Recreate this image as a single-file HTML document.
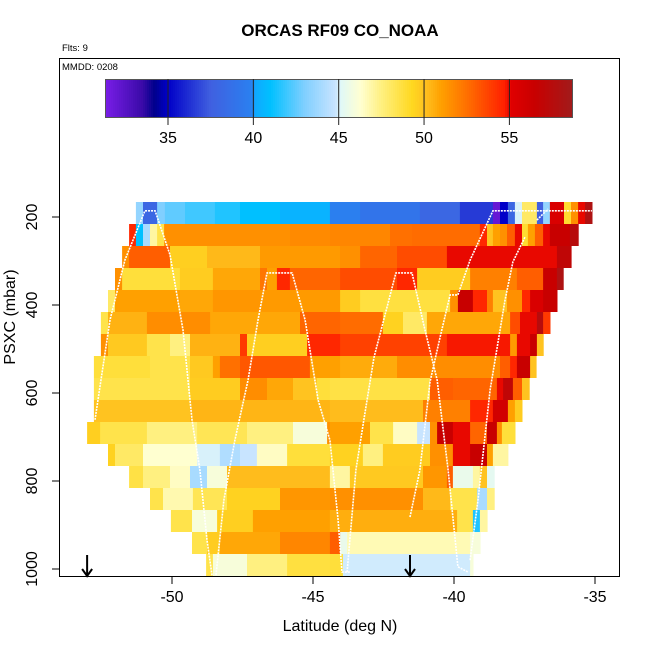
<!DOCTYPE html>
<html><head><meta charset="utf-8"><style>
html,body{margin:0;padding:0;background:#fff;}
svg{display:block;font-family:"Liberation Sans",Arial,sans-serif;}
</style></head><body>
<svg id="chart" width="650" height="650" viewBox="0 0 650 650"></svg>
<script>
// ---- data ----
const pressureLevels=[190,240,290,340,390,440,490,540,590,640,690,740,790,840,890,940,990];
const rowEnds=[-35.11,-35.60,-35.85,-36.13,-36.35,-36.60,-36.84,-37.09,-37.34,-37.59,-37.84,-38.09,-38.58,-38.58,-38.83,-39.08,-39.33];
const segStarts=[
[-51.28,-51.03,-50.53,-50.25,-49.54,-48.48,-47.59,-46.17,-44.40,-43.33,-41.21,-39.79,-38.62,-38.37,-38.09,-37.84,-37.59,-37.06,-36.84,-36.60,-36.10,-35.85,-35.60,-35.35],
[-51.52,-51.28,-51.03,-50.78,-50.53,-50.28,-45.82,-44.40,-42.27,-41.49,-39.08,-38.83,-38.62,-38.37,-38.12,-37.84,-37.59,-37.38,-37.13,-36.84,-36.60,-35.89],
[-51.77,-51.52,-50.07,-48.76,-46.88,-44.04,-43.33,-42.02,-40.25,-36.35],
[-52.02,-51.77,-49.72,-48.55,-46.88,-46.63,-46.28,-45.82,-44.04,-42.02,-41.31,-39.43,-37.77,-36.84,-36.35],
[-52.27,-52.02,-49.72,-48.55,-46.88,-44.04,-43.33,-40.14,-39.86,-39.33,-38.83,-38.62,-38.12,-37.59,-37.30,-36.84],
[-52.52,-52.27,-50.89,-48.65,-45.46,-44.04,-42.52,-41.81,-40.96,-38.01,-37.66,-37.06,-36.84],
[-52.52,-52.27,-50.89,-50.07,-49.36,-47.59,-47.34,-45.21,-44.04,-40.25,-38.01,-37.66,-37.77,-37.30,-37.06],
[-52.77,-50.78,-49.36,-48.55,-48.30,-47.59,-45.11,-44.04,-42.02,-38.37,-38.01,-37.77,-37.30],
[-52.77,-49.36,-47.59,-46.63,-45.71,-44.86,-44.40,-40.85,-40.04,-38.48,-38.26,-37.91,-37.59],
[-52.77,-49.36,-44.40,-41.10,-39.43,-38.62,-38.09,-37.84],
[-53.01,-52.55,-50.89,-49.11,-47.34,-45.71,-44.50,-44.40,-42.98,-42.16,-41.31,-40.85,-40.60,-40.04,-39.43,-38.83,-38.48,-38.30],
[-52.27,-52.02,-51.03,-49.11,-48.30,-47.59,-46.99,-45.92,-44.40,-43.23,-42.52,-40.85,-40.04,-39.43,-38.83,-38.62],
[-51.52,-51.03,-50.07,-49.36,-48.76,-48.05,-44.40,-43.69,-41.10,-40.25,-40.04,-39.33,-39.08,-38.83],
[-50.78,-50.32,-49.26,-48.05,-46.17,-44.40,-41.10,-40.14,-39.18,-38.83],
[-50.04,-49.29,-48.40,-47.13,-44.40,-39.89,-39.33,-39.08],
[-49.29,-48.76,-48.30,-46.17,-44.40,-44.04,-43.79,-39.43],
[-48.79,-48.55,-47.34,-45.92,-44.40,-43.94,-39.43]
];
const segValues=[
[43.5,38,43,42.5,42,41.5,41,40.5,39.8,39,38,36.5,32,35,38,45,48,37.5,43.5,55.5,49,51.5,55,58],
[54.5,41,44,47,48.5,51.5,51.7,51.8,52.5,52.6,54.5,50,51,51.5,53,55,49,51,53,55,56.5,57.5],
[51.5,53,49.6,50.3,51.2,51.5,52.8,53.5,55,57],
[51.5,48.8,49.7,50.8,52.3,51,54.5,52.8,53.5,54.5,49.7,52,53,56.5,58],
[48,51,50.8,51.3,51.2,49.7,48.7,51.5,56.5,54.5,52,50,51.5,54.5,55.5,56.5],
[48.5,50.5,51.6,50.8,52.8,52.6,49.5,48,50.8,53.5,55,57.5,54],
[51.5,49.8,48.5,47.5,50.5,54,49.6,54.5,53.8,54.8,51.2,53,55,56.5,50],
[48.8,48.5,49.8,51,52.5,53.2,51,50.7,51.6,53,54.5,56.5,50],
[48.5,49.7,51.6,50.8,50,48.8,48.6,53,52.8,55,57,53,50],
[50,50.4,50.2,52,54.5,56,51,49.7],
[49.6,48.5,47.5,48.3,47.5,46,51.5,51,48.5,46.5,44.8,51.5,56.5,55,52.8,56.5,51.5,48.8],
[49.5,48,46.3,45,44.2,44.8,46.5,48.8,49.5,47.5,49.7,51.5,55,56.5,51,47],
[48.6,47.5,46.5,44,46,50.2,47,49.8,51.3,53,45.5,47,50,45.3],
[48.5,46.8,48.3,49.5,51.3,51.5,50.3,48.5,44,47.5],
[48.5,46,49.6,51,50.6,48.5,41.5,47],
[48.5,49.7,50.8,51.8,53,45.5,46.7,46],
[48.5,46,47.5,48.7,48.8,44.9,46]
];
const trackA=[[-52.73,661],[-52.20,434],[-51.67,298],[-50.96,186],[-50.60,186],[-50.07,286],[-49.61,457],[-49.29,661],[-49.01,775],[-48.76,934],[-48.58,1014]];
const trackB=[[-48.44,1014],[-48.16,843],[-47.77,707],[-47.30,570],[-46.95,434],[-46.63,327],[-45.74,327],[-45.28,434],[-44.82,616],[-44.40,707],[-44.11,889],[-43.97,1007],[-43.69,1007]];
const trackC=[[-43.79,1007],[-43.48,775],[-43.19,659],[-42.84,520],[-42.06,327],[-41.49,327],[-41.03,457],[-40.60,570],[-40.21,775],[-39.86,995],[-39.50,1007]];
const trackD=[[-41.56,882],[-41.21,775],[-40.85,575],[-40.50,475],[-40.14,377],[-39.86,377],[-39.43,298],[-38.62,186],[-35.11,186]];
const trackE=[[-39.43,980],[-39.15,843],[-38.72,593],[-38.19,389],[-37.91,302],[-37.48,245]];
const trackF=[[-37.06,207],[-36.67,182]];
const arrowLats=[-53.01,-41.56];
const xTicks=[-50,-45,-40,-35];
const yTicks=[200,400,600,800,1000];
const cbTicks=[35,40,45,50,55];
const cmapVals=[31.3,33.5,34.2,35,37.5,39.9,40.1,41,43,44.8,45.1,46.3,47.5,49.3,50.1,51,52.5,54.7,55.1,56.5,58.8];
const cmapCols=["#7a1ee8","#3a0aa8","#00008c","#0000c8","#4060e0","#2a80f0","#10a8ff","#00c0ff","#80cfff","#c8e4ff","#e0f8f8","#ffffd0","#fff080","#ffd820","#ffc020","#ffa000","#ff7000","#ff2000","#e00000","#c80000","#a01c1c"];

// ---- scales ----
const xs=lat=>172+(lat+50)*28.2;
const ys=p=>217+(p-200)*0.44;
const cbx=v=>168+(v-35)*17.07;
function hex(c){return [parseInt(c.slice(1,3),16),parseInt(c.slice(3,5),16),parseInt(c.slice(5,7),16)];}
function cmap(v){
  if(v<=cmapVals[0])return cmapCols[0];
  for(let i=1;i<cmapVals.length;i++){
    if(v<=cmapVals[i]){
      const t=(v-cmapVals[i-1])/(cmapVals[i]-cmapVals[i-1]);
      const a=hex(cmapCols[i-1]),b=hex(cmapCols[i]);
      return "rgb("+a.map((x,k)=>Math.round(x+(b[k]-x)*t)).join(",")+")";
    }
  }
  return cmapCols[cmapCols.length-1];
}
const NS="http://www.w3.org/2000/svg";
const svg=document.getElementById("chart");
function mk(tag,attrs,parent){const e=document.createElementNS(NS,tag);for(const k in attrs)e.setAttribute(k,attrs[k]);(parent||svg).appendChild(e);return e;}

let t=mk("text",{x:340,y:36,"text-anchor":"middle","font-size":"17","font-weight":"bold"});t.textContent="ORCAS RF09 CO_NOAA";


t=mk("text",{x:62,y:51,"font-size":"9.5"});t.textContent="Flts: 9";



// heatmap
const hm=mk("g",{});


pressureLevels.forEach((p,r)=>{
  const st=segStarts[r],vals=segValues[r];
  const y0=Math.round(ys(p-25)),y1=Math.round(ys(p+25));
  for(let i=0;i<st.length;i++){
    const end=i+1<st.length?st[i+1]:rowEnds[r];
    const x0=xs(st[i]),x1=xs(end);
    const c=mk("rect",{x:x0.toFixed(1),y:y0,width:(x1-x0+0.6).toFixed(1),height:y1-y0,fill:cmap(vals[i])},hm);
    
    
  }
});

// tracks
[trackA,trackB,trackC,trackD,trackE,trackF].forEach(tr=>{
  const pl=mk("polyline",{points:tr.map(q=>xs(q[0]).toFixed(1)+","+ys(q[1]).toFixed(1)).join(" "),fill:"none",stroke:"#fff","stroke-width":"1.6","stroke-dasharray":"2 1","stroke-linejoin":"round"});
  
  
});

// arrows
arrowLats.forEach(l=>{
  const x=xs(l);
  const g=mk("g",{});
  
  
  mk("line",{x1:x,y1:555,x2:x,y2:576,stroke:"#000","stroke-width":"2"},g);
  mk("polyline",{points:(x-5)+",569 "+x+",576 "+(x+5)+",569",fill:"none",stroke:"#000","stroke-width":"2"},g);
});

const fr=mk("rect",{x:59.5,y:58.5,width:560,height:518,fill:"none",stroke:"#000","stroke-width":"1"});


t=mk("text",{x:62,y:70,"font-size":"9.5"});t.textContent="MMDD: 0208";



// colorbar
const cb=mk("g",{});


const cbL=105,cbR=573;
for(let px=cbL;px<cbR;px+=2){
  const v=35+(px+1-168)/17.07;
  mk("rect",{x:px,y:79,width:Math.min(2.6,cbR-px),height:39,fill:cmap(v)},cb);
}
mk("rect",{x:105.5,y:79.5,width:467,height:38,fill:"none",stroke:"#555","stroke-width":"1"},cb);
cbTicks.forEach(v=>{
  const x=cbx(v);
  mk("line",{x1:x,y1:79,x2:x,y2:125,stroke:"#222","stroke-width":"1"},cb);
  const tt=mk("text",{x:x,y:143,"text-anchor":"middle","font-size":"16"},cb);tt.textContent=v;
  
  
});

// axes
xTicks.forEach(v=>{
  const x=xs(v);
  mk("line",{x1:x,y1:577,x2:x,y2:584,stroke:"#000"});
  const tt=mk("text",{x:x,y:602,"text-anchor":"middle","font-size":"16"});tt.textContent=v;
  
  
});
yTicks.forEach(v=>{
  const y=ys(v);
  mk("line",{x1:52,y1:y,x2:59,y2:y,stroke:"#000"});
  const tt=mk("text",{x:0,y:0,"text-anchor":"middle","font-size":"16",transform:"translate(37,"+y+") rotate(-90)"});tt.textContent=v;
  
  
});
t=mk("text",{x:340,y:631,"text-anchor":"middle","font-size":"16"});t.textContent="Latitude (deg N)";


t=mk("text",{x:0,y:0,"text-anchor":"middle","font-size":"16",transform:"translate(15,317) rotate(-90)"});t.textContent="PSXC (mbar)";


</script>
</body></html>
